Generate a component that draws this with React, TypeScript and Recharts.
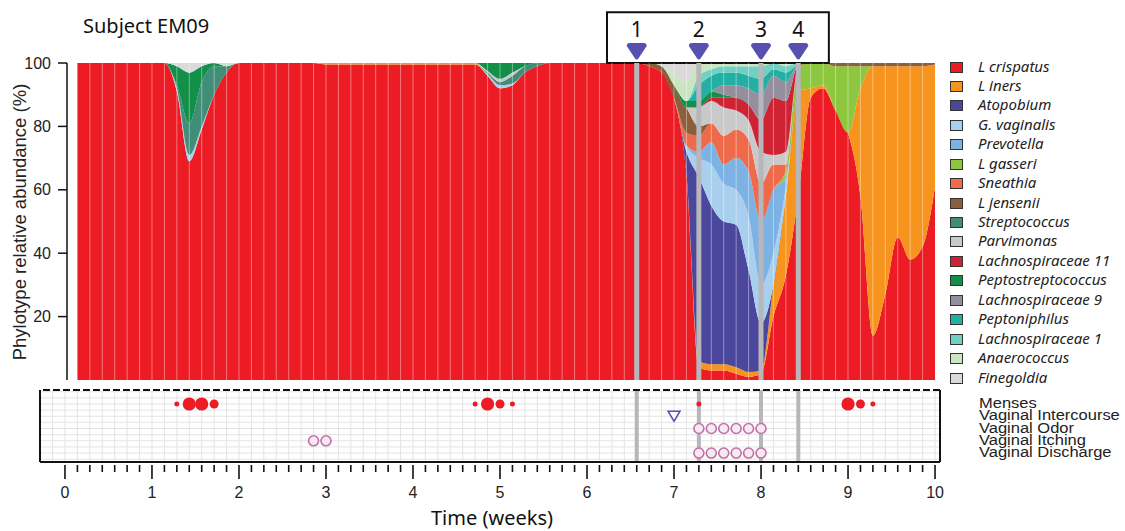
import React from 'react';
import {
  AreaChart, Area, XAxis, YAxis, ReferenceLine, ReferenceArea,
  ScatterChart, Scatter,
} from 'recharts';

// ---------- sampling days (one sample per day, days 1..70) ----------
const sampleDays: number[] = Array.from({ length: 70 }, (_, i) => i + 1);

// ---------- phylotype relative abundance (%) ----------
const crispatus = [
  100, 100, 100, 100, 100, 100, 100,
  100, 91, 69, 79, 90, 97, 100,
  100, 100, 100, 100, 100, 100, 99.5,
  99.5, 99.5, 99.5, 99.5, 99.5, 99.5, 99.5,
  99.5, 99.5, 99.5, 99.5, 99.5, 96, 92,
  93, 97, 99, 100, 100, 100, 100,
  100, 100, 100, 100, 99, 97, 89,
  65, 4, 3, 3, 2, 1, 2,
  20, 33, 58, 89, 92, 85, 78,
  58, 14, 27, 45, 38, 42, 61,
];
const iners = [
  0, 0, 0, 0, 0, 0, 0,
  0, 0, 0, 0, 0, 0, 0,
  0, 0, 0, 0, 0, 0, 0.5,
  0.5, 0.5, 0.5, 0.5, 0.5, 0.5, 0.5,
  0.5, 0.5, 0.5, 0.5, 0.5, 0, 0,
  0, 0, 0, 0, 0, 0, 0,
  0, 0, 0, 0, 0, 0, 0,
  0, 2, 2, 2, 2, 1.5, 1,
  10, 25, 33, 3, 1, 0, 0,
  34, 85, 72, 54, 61, 57, 38.5,
];
// sparse series: day -> %
const atopobium: Record<number, number> = { 50: 7, 51: 58, 52: 50, 53: 45, 54: 45, 55: 32, 56: 15 };
const gVaginalis: Record<number, number> = { 9: 1, 10: 2, 11: 1, 34: 0.5, 35: 1, 36: 0.5, 50: 2, 51: 6, 52: 13, 53: 12, 54: 11, 55: 17, 56: 12, 57: 10, 58: 3 };
const prevotella: Record<number, number> = { 51: 2, 52: 7, 53: 6, 54: 10, 55: 14, 56: 20, 57: 20, 58: 3 };
const gasseri: Record<number, number> = { 58: 2, 59: 8, 60: 8, 61: 7, 62: 14, 63: 21, 64: 7 };
const sneathia: Record<number, number> = { 50: 4, 51: 5, 52: 6, 53: 9, 54: 9, 55: 10, 56: 12, 57: 8, 58: 2 };
const jensenii: Record<number, number> = { 47: 1, 48: 2, 49: 4, 50: 8, 51: 3, 62: 1, 63: 1, 64: 1, 65: 1, 66: 1, 67: 1, 68: 1, 69: 1, 70: 0.5 };
const streptococcus: Record<number, number> = { 9: 1, 10: 10, 11: 14, 12: 9, 13: 2, 34: 0.5, 35: 1, 36: 2.5, 37: 2, 38: 1 };
const parvimonas: Record<number, number> = { 34: 0.5, 35: 1, 36: 1, 51: 6, 52: 7, 53: 9, 54: 6, 55: 6, 56: 10, 57: 3, 58: 4 };
const lachno11: Record<number, number> = { 52: 1, 53: 3, 54: 4, 55: 5, 56: 10, 57: 18, 58: 16, 59: 0.5 };
const peptostrep: Record<number, number> = { 9: 6, 10: 16, 11: 5, 12: 1, 34: 2.5, 35: 5, 36: 3, 37: 1, 50: 2, 51: 2, 52: 2, 53: 1 };
const lachno9: Record<number, number> = { 53: 3, 54: 4, 55: 5, 56: 8, 57: 7, 58: 6 };
const peptoniphilus: Record<number, number> = { 51: 5, 52: 5, 53: 4, 54: 4, 55: 4, 56: 5, 57: 2, 58: 3 };
const lachno1: Record<number, number> = { 51: 3, 52: 2, 53: 2, 54: 2, 55: 3, 56: 4, 57: 2, 58: 2, 59: 0.5 };
const anaerococcus: Record<number, number> = { 13: 1, 49: 3, 50: 6, 51: 4, 52: 2, 53: 1, 54: 1, 55: 1, 56: 1, 58: 1 };
const finegoldia: Record<number, number> = { 9: 1, 10: 3, 11: 1, 48: 1, 49: 4, 50: 6 };

const seriesNames = [
  'L crispatus', 'L iners', 'Atopobium', 'G. vaginalis', 'Prevotella', 'L gasseri',
  'Sneathia', 'L jensenii', 'Streptococcus', 'Parvimonas', 'Lachnospiraceae 11',
  'Peptostreptococcus', 'Lachnospiraceae 9', 'Peptoniphilus', 'Lachnospiraceae 1',
  'Anaerococcus', 'Finegoldia',
];
const seriesColors = [
  '#ED1C24', '#F7941D', '#4B479C', '#A8D0EE', '#7DB2E4', '#8DC63F',
  '#EF6A4A', '#8B5E3C', '#418E78', '#C9C9C9', '#CF2233',
  '#12904A', '#958E9E', '#22AFA4', '#72CFC3', '#C9E6C1', '#DADADA',
];
const seriesValues: ((d: number, i: number) => number)[] = [
  (_d, i) => crispatus[i],
  (_d, i) => iners[i],
  (d) => atopobium[d] ?? 0,
  (d) => gVaginalis[d] ?? 0,
  (d) => prevotella[d] ?? 0,
  (d) => gasseri[d] ?? 0,
  (d) => sneathia[d] ?? 0,
  (d) => jensenii[d] ?? 0,
  (d) => streptococcus[d] ?? 0,
  (d) => parvimonas[d] ?? 0,
  (d) => lachno11[d] ?? 0,
  (d) => peptostrep[d] ?? 0,
  (d) => lachno9[d] ?? 0,
  (d) => peptoniphilus[d] ?? 0,
  (d) => lachno1[d] ?? 0,
  (d) => anaerococcus[d] ?? 0,
  (d) => finegoldia[d] ?? 0,
];

const abundanceRows = sampleDays.map((d, i) => {
  const row: Record<string, number> = { week: d / 7 };
  seriesNames.forEach((_, k) => { row['s' + k] = seriesValues[k](d, i); });
  return row;
});

// ---------- time points of interest (days) ----------
const timepointDays = [46, 51, 56, 59];
const timepointLabels = ['1', '2', '3', '4'];

// ---------- behaviour / symptom diary ----------
const rowLabels: Record<number, string> = {
  5: 'Menses', 4: 'Vaginal Intercourse', 3: 'Vaginal Odor', 2: 'Vaginal Itching', 1: 'Vaginal Discharge',
};
const mensesDays = [9, 10, 11, 12, 33, 34, 35, 36, 51, 63, 64, 65];
const mensesFlow = [1, 3, 3, 2, 1, 3, 2, 1, 1, 3, 2, 1];
const intercourseDays = [49];
const odorDays = [51, 52, 53, 54, 55, 56];
const itchingDays = [20, 21];
const dischargeDays = [51, 52, 53, 54, 55, 56];

const mensesPts = mensesDays.map((d, i) => ({ week: d / 7, row: 5, flow: mensesFlow[i] }));
const intercoursePts = intercourseDays.map((d) => ({ week: d / 7, row: 4 }));
const odorPts = odorDays.map((d) => ({ week: d / 7, row: 3 }));
const itchingPts = itchingDays.map((d) => ({ week: d / 7, row: 2 }));
const dischargePts = dischargeDays.map((d) => ({ week: d / 7, row: 1 }));

const timeTicks = Array.from({ length: 71 }, (_, i) => i / 7);
const gridDays = Array.from({ length: 72 }, (_, i) => i - 1);
const gridRows = Array.from({ length: 12 }, (_, i) => 0.5 + i * 0.5);

const SANS = "'Liberation Sans', Arial, Helvetica, sans-serif";
const HUMAN = "'Noto Sans', 'Open Sans', sans-serif";

const MAIN_X_MIN = 0.023;
const LOW_X_MIN = -0.287;
const LOW_X_MAX = 10.057;
const LOW_Y_MIN = 0.27;
const LOW_Y_MAX = 6.14;

const TimepointMark = (props: any) => {
  const { viewBox, n } = props;
  if (!viewBox) return null;
  const x = viewBox.x;
  const top = viewBox.y;
  const d = `M${x - 10},${top - 17} Q${x - 10},${top - 20} ${x - 7},${top - 20} L${x + 7},${top - 20} Q${x + 10},${top - 20} ${x + 10},${top - 17} L${x + 2},${top - 5} Q${x},${top - 2} ${x - 2},${top - 5} Z`;
  return (
    <g>
      <text x={x} y={top - 26} textAnchor="middle" fontSize={21} fontFamily={HUMAN} fill="#111">{n}</text>
      <path d={d} fill="#5650B0" />
    </g>
  );
};

const YTitle = () => (
  <text transform="translate(19,222) rotate(-90)" textAnchor="middle" dominantBaseline="central"
    fontSize={18.5} fontFamily={SANS} fill="#222">Phylotype relative abundance (%)</text>
);

const TimeTitle = () => (
  <text x={492} y={145} textAnchor="middle" fontSize={20} fontFamily={HUMAN} fill="#111">Time (weeks)</text>
);

const TimeTick = (props: any) => {
  const { x, y, payload } = props;
  const day = Math.round(payload.value * 7);
  const major = day % 7 === 0;
  return (
    <g>
      <line x1={x} x2={x} y1={y + 3} y2={y + (major ? 17 : 10)} stroke="#111" strokeWidth={1.6} />
      {major && (
        <text x={x} y={y + 36} textAnchor="middle" fontSize={16} fontFamily={SANS} fill="#222">{day / 7}</text>
      )}
    </g>
  );
};

const RowTick = (props: any) => {
  const { x, y, payload } = props;
  return (
    <text transform={`translate(${x + 39},${y + 4}) scale(1.1,1)`} fontSize={15} fontFamily={SANS} fill="#222">
      {rowLabels[payload.value]}
    </text>
  );
};

const MensesDot = (props: any) => {
  const { cx, cy, payload } = props;
  const r = payload.flow === 3 ? 6.6 : payload.flow === 2 ? 4.5 : 2.5;
  return <circle cx={cx} cy={cy} r={r} fill="#ED1C24" />;
};
const TriangleDown = (props: any) => {
  const { cx, cy } = props;
  return <path d={`M${cx - 6},${cy - 5} L${cx + 6},${cy - 5} L${cx},${cy + 5} Z`} fill="#fff" stroke="#5650B0" strokeWidth={1.5} />;
};
const OpenCircle = (props: any) => {
  const { cx, cy } = props;
  return <circle cx={cx} cy={cy} r={5} fill="#F6EAF2" stroke="#C46FA8" strokeWidth={1.6} />;
};

export default function App() {
  return (
    <div style={{ position: 'absolute', left: 0, top: 0, width: 1125, height: 531, background: '#fff', overflow: 'hidden' }}>
      <div style={{ position: 'absolute', left: 83, top: 16, fontFamily: HUMAN, fontSize: 20, lineHeight: '20px', color: '#111', whiteSpace: 'nowrap' }}>
        Subject EM09
      </div>

      <div style={{ position: 'absolute', left: 0, top: 0 }}>
        <AreaChart width={1125} height={385} data={abundanceRows} stackOffset="expand"
          margin={{ top: 63, right: 190, bottom: 5, left: 0 }}>
          <XAxis type="number" dataKey="week" domain={[MAIN_X_MIN, 10]} hide allowDataOverflow />
          <YAxis type="number" domain={[0, 1]} ticks={[0, 0.2, 0.4, 0.6, 0.8, 1]} allowDataOverflow
            tickFormatter={(v: number) => String(Math.round(v * 100))}
            width={67} tickSize={9} tickMargin={7}
            axisLine={{ stroke: '#111', strokeWidth: 1.5 }} tickLine={{ stroke: '#111', strokeWidth: 1.5 }}
            tick={{ fontSize: 16, fill: '#222', fontFamily: SANS }}
            label={<YTitle />} />
          {seriesNames.map((name, k) => (
            <Area key={name} name={name} type="monotone" dataKey={'s' + k} stackId="a"
              fill={seriesColors[k]} fillOpacity={1} stroke="none" isAnimationActive={false} dot={false} activeDot={false} />
          ))}
          {sampleDays.slice(1, 69).map((d) => (
            <ReferenceLine key={'w' + d} x={d / 7} stroke="#ffffff" strokeOpacity={0.4} strokeWidth={1} />
          ))}
          <ReferenceArea x1={6.23} x2={8.78} y1={1} y2={1.16} ifOverflow="visible"
            fill="#ffffff" fillOpacity={1} stroke="#111" strokeWidth={2} />
          {timepointDays.map((d, i) => (
            <ReferenceLine key={'tp' + d} x={d / 7} stroke="#B7B7BB" strokeWidth={5}
              label={<TimepointMark n={timepointLabels[i]} />} />
          ))}
        </AreaChart>
      </div>

      <div style={{ position: 'absolute', left: 0, top: 380 }}>
        <ScatterChart width={1125} height={151} margin={{ top: 10, right: 0, bottom: 0, left: 40 }}>
          <XAxis type="number" dataKey="week" domain={[LOW_X_MIN, LOW_X_MAX]} allowDataOverflow
            ticks={timeTicks} interval={0} tick={<TimeTick />} tickSize={0} tickMargin={0}
            axisLine={false} tickLine={false} height={69} label={<TimeTitle />} />
          <YAxis type="number" dataKey="row" orientation="right" domain={[LOW_Y_MIN, LOW_Y_MAX]} allowDataOverflow
            ticks={[1, 2, 3, 4, 5]} interval={0} width={185} tick={<RowTick />} tickSize={0} tickMargin={0}
            axisLine={false} tickLine={false} />
          {gridDays.map((d) => (
            <ReferenceLine key={'gx' + d} x={d / 7} stroke="#E4E4E4" strokeWidth={1} ifOverflow="visible" />
          ))}
          {gridRows.map((r) => (
            <ReferenceLine key={'gy' + r} y={r} stroke="#E4E4E4" strokeWidth={1} ifOverflow="visible" />
          ))}
          {timepointDays.map((d) => (
            <ReferenceLine key={'ltp' + d} x={d / 7} stroke="#B7B7BB" strokeWidth={4} />
          ))}
          <ReferenceLine x={LOW_X_MIN} stroke="#111" strokeWidth={2} ifOverflow="visible" />
          <ReferenceLine x={LOW_X_MAX} stroke="#111" strokeWidth={2} ifOverflow="visible" />
          <ReferenceLine y={LOW_Y_MIN} stroke="#111" strokeWidth={2} ifOverflow="visible" />
          <ReferenceLine y={LOW_Y_MAX} stroke="#111" strokeWidth={2} strokeDasharray="7 3" ifOverflow="visible" />
          <Scatter name="Menses" data={mensesPts} shape={MensesDot} isAnimationActive={false} />
          <Scatter name="Vaginal Intercourse" data={intercoursePts} shape={TriangleDown} isAnimationActive={false} />
          <Scatter name="Vaginal Odor" data={odorPts} shape={OpenCircle} isAnimationActive={false} />
          <Scatter name="Vaginal Itching" data={itchingPts} shape={OpenCircle} isAnimationActive={false} />
          <Scatter name="Vaginal Discharge" data={dischargePts} shape={OpenCircle} isAnimationActive={false} />
        </ScatterChart>
      </div>

      {seriesNames.map((name, k) => {
        const cy = 67 + k * 19.44;
        return (
          <React.Fragment key={'lg' + name}>
            <div style={{ position: 'absolute', left: 950, top: cy - 5.5, width: 13, height: 11, boxSizing: 'border-box', background: seriesColors[k], border: '1px solid #333' }} />
            <div style={{ position: 'absolute', left: 978, top: cy - 9.5, fontFamily: HUMAN, fontStyle: 'italic', fontSize: 15, lineHeight: '17px', color: '#222', whiteSpace: 'nowrap' }}>
              {name}
            </div>
          </React.Fragment>
        );
      })}
    </div>
  );
}
